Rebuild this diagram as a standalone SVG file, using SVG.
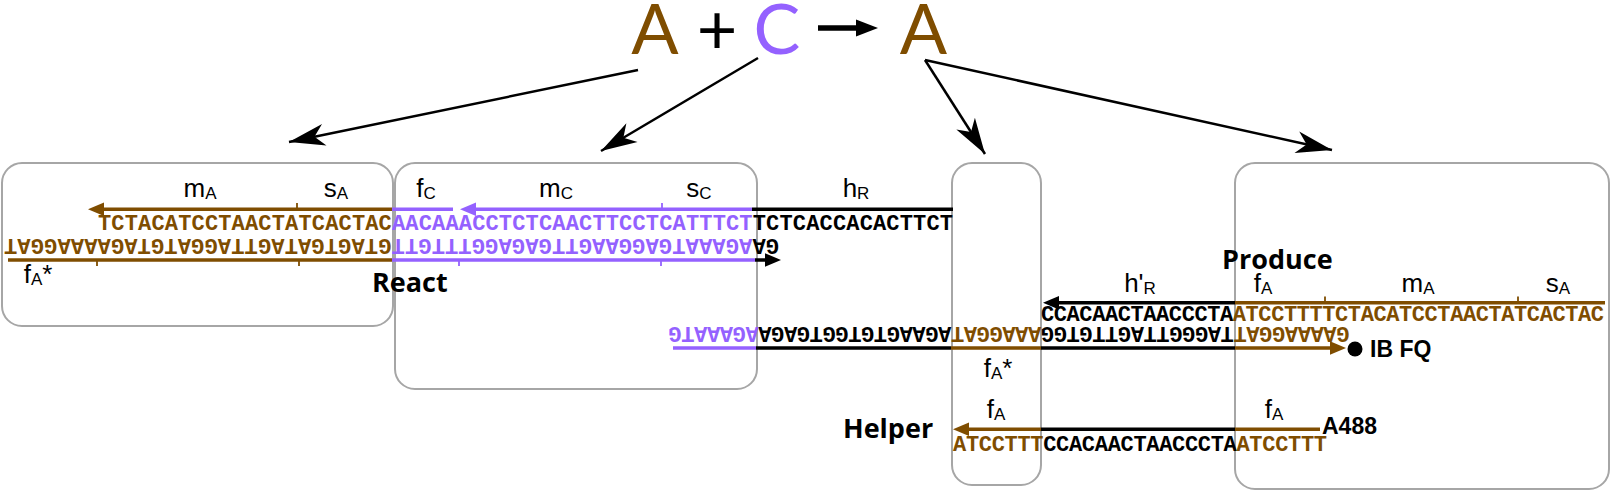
<svg xmlns="http://www.w3.org/2000/svg" width="1613" height="493" viewBox="0 0 1613 493">
<style>
.box{fill:none;stroke:#A6A6A6;stroke-width:2}
.dna{font-family:"Liberation Mono","Courier New",monospace;font-weight:bold;font-size:22px}
.lbl{font-family:"Liberation Sans",Arial,sans-serif;font-size:26px;fill:#000;text-anchor:middle}
.sub{font-size:17px}
.big{font-family:"Open Sans","Liberation Sans",sans-serif;font-weight:bold;font-size:27px;fill:#000}
.tag{font-family:"Liberation Sans",Arial,sans-serif;font-weight:bold;font-size:23px;fill:#000}
.br{fill:#7F4D00}
.pu{fill:#9461FF}
.bk{fill:#000}
.lbr{stroke:#7F4D00;stroke-width:3.5;fill:none}
.lpu{stroke:#9461FF;stroke-width:3.5;fill:none}
.lbk{stroke:#000;stroke-width:3.5;fill:none}
.tbr{stroke:#7F4D00;stroke-width:1.8}
.tpu{stroke:#9461FF;stroke-width:1.8}
.conn{stroke:#000;stroke-width:2.5;fill:none;marker-end:url(#stealth)}
.eq{font-family:Lato,"Open Sans",sans-serif;font-size:70px;text-anchor:middle}
</style>
<defs>
<marker id="stealth" markerUnits="userSpaceOnUse" viewBox="-38 -12 40 24" refX="0" refY="0" markerWidth="40" markerHeight="24" orient="auto">
<path d="M0,0 L-36,-11 L-26,0 L-36,11 Z" fill="#000"/>
</marker>
</defs>

<g id="equation">
<text class="eq br" x="655" y="54">A</text>
<text class="eq bk" x="717" y="54">+</text>
<text class="eq pu" x="777" y="54">C</text>
<line x1="818" y1="28" x2="860" y2="28" stroke="#000" stroke-width="5.5"/>
<polygon points="878,28 856,19.5 856,36.5" fill="#000"/>
<text class="eq br" x="923.5" y="54">A</text>
</g>

<g id="connectors">
<path class="conn" d="M638,70 L289,142"/>
<path class="conn" d="M758,58 L601,151"/>
<path class="conn" d="M925,60 L985,154"/>
<path class="conn" d="M925,60 L1332,150"/>
</g>

<g id="box1"><rect class="box" x="2" y="163" width="391" height="163" rx="20"/></g>
<g id="box2"><rect class="box" x="395" y="163" width="362" height="226" rx="20"/></g>
<g id="box3"><rect class="box" x="952" y="163" width="89" height="322" rx="20"/></g>
<g id="box4"><rect class="box" x="1235" y="163" width="374" height="326" rx="20"/></g>

<g id="react-complex">
<line class="lbr" x1="392" y1="209.3" x2="102" y2="209.3"/>
<polygon class="br" points="88,209.3 104,202.5 104,216.1"/>
<line class="tbr" x1="297" y1="209.3" x2="297" y2="203"/>
<line class="lpu" x1="392" y1="209.3" x2="453" y2="209.3"/>
<line class="lpu" x1="752" y1="209.3" x2="474" y2="209.3"/>
<polygon class="pu" points="460,209.3 476,202.5 476,216.1"/>
<line class="tpu" x1="662" y1="209.3" x2="662" y2="203"/>
<line class="lbk" x1="752" y1="209.3" x2="953" y2="209.3"/>
<text class="dna" x="98" y="229.5" textLength="855" lengthAdjust="spacing"><tspan class="br">TCTACATCCTAACTATCACTAC</tspan><tspan class="pu">AACAAACCTCTCAACTTCCTCATTTCT</tspan><tspan class="bk">TCTCACCACACTTCT</tspan></text>
<g transform="translate(779,238.5) rotate(180)"><text class="dna" x="0" y="0" textLength="775" lengthAdjust="spacing"><tspan class="bk">GA</tspan><tspan class="pu">AGAAATGAGGAAGTTGAGAGGTTTGTT</tspan><tspan class="br">GTAGTGATAGTTAGGATGTAGAAAAGGAT</tspan></text></g>
<line class="lbr" x1="8" y1="260" x2="392" y2="260"/>
<line class="tbr" x1="97" y1="260" x2="97" y2="266"/>
<line class="tbr" x1="299" y1="260" x2="299" y2="266"/>
<line class="lpu" x1="392" y1="260" x2="755" y2="260"/>
<line class="tpu" x1="459" y1="260" x2="459" y2="266"/>
<line class="tpu" x1="661" y1="260" x2="661" y2="266"/>
<line class="lbk" x1="755" y1="260" x2="767" y2="260"/>
<polygon class="bk" points="781,260 765,253.2 765,266.8"/>
<text class="lbl" x="200" y="197">m<tspan class="sub" dy="2">A</tspan></text>
<text class="lbl" x="336" y="197">s<tspan class="sub" dy="2">A</tspan></text>
<text class="lbl" x="426" y="197">f<tspan class="sub" dy="2">C</tspan></text>
<text class="lbl" x="556" y="197">m<tspan class="sub" dy="2">C</tspan></text>
<text class="lbl" x="699" y="197">s<tspan class="sub" dy="2">C</tspan></text>
<text class="lbl" x="856" y="197">h<tspan class="sub" dy="2">R</tspan></text>
<text class="lbl" x="38" y="283">f<tspan class="sub" dy="2">A</tspan><tspan dy="-2">*</tspan></text>
<text class="big" x="372" y="292">React</text>
</g>

<g id="produce-complex">
<line class="lbk" x1="1235" y1="302.7" x2="1057" y2="302.7"/>
<polygon class="bk" points="1043,302.7 1059,295.9 1059,309.5"/>
<line class="lbr" x1="1235" y1="302.7" x2="1605" y2="302.7"/>
<line class="tbr" x1="1325" y1="302.7" x2="1325" y2="296.5"/>
<line class="tbr" x1="1518" y1="302.7" x2="1518" y2="296.5"/>
<text class="lbl" x="1140" y="292">h'<tspan class="sub" dy="2">R</tspan></text>
<text class="lbl" x="1263" y="292">f<tspan class="sub" dy="2">A</tspan></text>
<text class="lbl" x="1418" y="292">m<tspan class="sub" dy="2">A</tspan></text>
<text class="lbl" x="1558" y="292">s<tspan class="sub" dy="2">A</tspan></text>
<text class="big" x="1222" y="269">Produce</text>
<text class="dna" x="1041" y="320.5" textLength="563" lengthAdjust="spacing"><tspan class="bk">CCACAACTAACCCTA</tspan><tspan class="br">ATCCTTTTCTACATCCTAACTATCACTAC</tspan></text>
<g transform="translate(1349.4,327) rotate(180)"><text class="dna" x="0" y="0" textLength="681" lengthAdjust="spacing"><tspan class="br">GAAAAGGAT</tspan><tspan class="bk">TAGGGTTAGTTGTGG</tspan><tspan class="br">AAAGGAT</tspan><tspan class="bk">AGAAGTGTGGTGAGA</tspan><tspan class="pu">AGAAATG</tspan></text></g>
<line class="lpu" x1="673" y1="348" x2="756" y2="348"/>
<line class="lbk" x1="756" y1="348" x2="951" y2="348"/>
<line class="lbr" x1="951" y1="348" x2="1041" y2="348"/>
<line class="lbk" x1="1041" y1="348" x2="1235" y2="348"/>
<line class="lbr" x1="1235" y1="348" x2="1332" y2="348"/>
<polygon class="br" points="1346,348 1330,341.2 1330,354.8"/>
<circle cx="1355" cy="349" r="7.5" fill="#000"/>
<text class="tag" x="1370" y="357">IB FQ</text>
<text class="lbl" x="998" y="377">f<tspan class="sub" dy="2">A</tspan><tspan dy="-2">*</tspan></text>
</g>

<g id="helper-strand">
<line class="lbr" x1="967" y1="429.3" x2="1041" y2="429.3"/>
<polygon class="br" points="953,429.3 969,422.5 969,436.1"/>
<line class="lbk" x1="1041" y1="429.3" x2="1235" y2="429.3"/>
<line class="lbr" x1="1235" y1="429.3" x2="1320" y2="429.3"/>
<text class="lbl" x="996" y="418">f<tspan class="sub" dy="2">A</tspan></text>
<text class="lbl" x="1274" y="418">f<tspan class="sub" dy="2">A</tspan></text>
<text class="dna" x="953" y="450.5" textLength="374" lengthAdjust="spacing"><tspan class="br">ATCCTTT</tspan><tspan class="bk">CCACAACTAACCCTA</tspan><tspan class="br">ATCCTTT</tspan></text>
<text class="big" x="843" y="438">Helper</text>
<text class="tag" x="1322" y="434">A488</text>
</g>
</svg>
